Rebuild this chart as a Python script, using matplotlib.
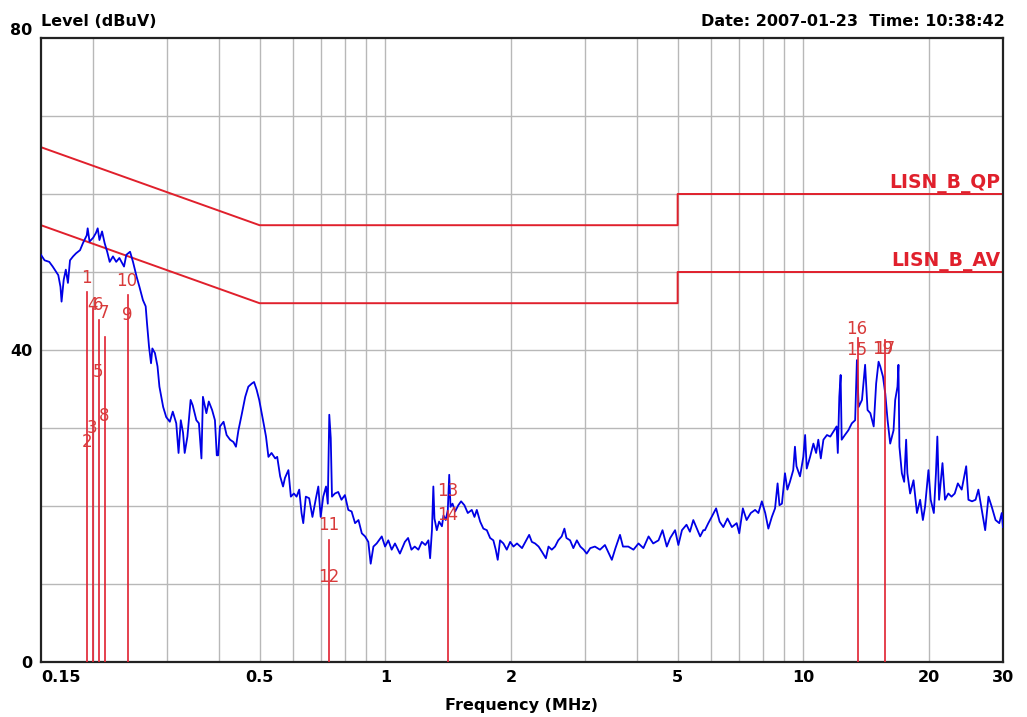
import matplotlib
matplotlib.use('Agg')
import matplotlib.pyplot as plt
from matplotlib.ticker import FixedLocator, NullFormatter, NullLocator

freq_mhz = [
    0.150, 0.153, 0.157, 0.160, 0.165, 0.167, 0.168, 0.170, 0.172, 0.174,
    0.176, 0.179, 0.182, 0.186, 0.189, 0.193, 0.194, 0.196, 0.200, 0.203,
    0.205, 0.207, 0.210, 0.213, 0.216, 0.219, 0.223, 0.227, 0.231, 0.237,
    0.240, 0.245, 0.249, 0.254, 0.258, 0.263, 0.267, 0.269, 0.272, 0.275,
    0.277, 0.281, 0.285, 0.288, 0.294, 0.299, 0.305, 0.310, 0.316, 0.320,
    0.324, 0.328, 0.331, 0.336, 0.342, 0.346, 0.353, 0.358, 0.363, 0.366,
    0.373, 0.378, 0.385, 0.391, 0.395, 0.398, 0.402, 0.410, 0.417, 0.425,
    0.433, 0.439, 0.445, 0.453, 0.462, 0.470, 0.479, 0.485, 0.492, 0.499,
    0.506, 0.512, 0.518, 0.525, 0.534, 0.545, 0.551, 0.560, 0.569, 0.575,
    0.586, 0.594, 0.604, 0.613, 0.622, 0.630, 0.636, 0.645, 0.657, 0.669,
    0.682, 0.691, 0.700, 0.710, 0.721, 0.728, 0.734, 0.740, 0.745, 0.757,
    0.771, 0.785, 0.800, 0.815, 0.830, 0.846, 0.862, 0.878, 0.894, 0.910,
    0.922, 0.936, 0.953, 0.980, 0.998, 1.016, 1.035, 1.054, 1.083, 1.113,
    1.133, 1.154, 1.175, 1.199, 1.222, 1.246, 1.267, 1.279, 1.292, 1.302,
    1.310, 1.327, 1.344, 1.365, 1.377, 1.394, 1.410, 1.421, 1.431, 1.447,
    1.468, 1.494, 1.517, 1.545, 1.574, 1.609, 1.633, 1.654, 1.685, 1.715,
    1.748, 1.780, 1.812, 1.836, 1.856, 1.880, 1.915, 1.951, 1.988, 2.024,
    2.064, 2.122, 2.161, 2.207, 2.240, 2.280, 2.325, 2.370, 2.420, 2.455,
    2.500, 2.545, 2.590, 2.640, 2.680, 2.710, 2.765, 2.815, 2.870, 2.925,
    2.980, 3.030, 3.090, 3.170, 3.260, 3.350, 3.410, 3.480, 3.550, 3.640,
    3.700, 3.810, 3.920, 4.030, 4.140, 4.260, 4.370, 4.500, 4.600, 4.710,
    4.800, 4.930, 5.020, 5.120, 5.250, 5.350, 5.450, 5.560, 5.660, 5.760,
    5.810, 5.920, 6.030, 6.180, 6.300, 6.430, 6.580, 6.740, 6.920, 7.020,
    7.160, 7.310, 7.480, 7.660, 7.800, 7.950, 8.100, 8.240, 8.400, 8.550,
    8.670, 8.760, 8.880, 9.030, 9.150, 9.280, 9.450, 9.540, 9.620, 9.810,
    9.990, 10.09, 10.18, 10.37, 10.56, 10.72, 10.85, 11.00, 11.16, 11.38,
    11.59, 11.81, 12.00, 12.08, 12.18, 12.27, 12.34, 12.56, 12.80, 13.05,
    13.29, 13.42, 13.55, 13.80, 14.04, 14.23, 14.45, 14.72, 14.92, 15.12,
    15.26, 15.49, 15.69, 15.89, 16.12, 16.42, 16.57, 16.78, 16.87, 16.96,
    17.19, 17.41, 17.60, 17.72, 17.99, 18.33, 18.68, 19.01, 19.30, 19.53,
    19.90, 20.15, 20.50, 20.74, 20.90, 21.10, 21.50, 21.80, 22.20, 22.60,
    23.00, 23.40, 23.90, 24.50, 24.80, 25.30, 25.80, 26.20, 26.70, 27.20,
    27.70, 28.20, 28.80, 29.40, 29.80, 30.00,
]
level_dbuv = [
    52.2, 51.5, 51.3, 50.7, 49.6, 48.1, 46.2, 49.0, 50.3, 48.6,
    51.5, 52.0, 52.4, 52.8, 53.7, 54.7, 55.6, 53.9, 54.4, 55.0,
    55.6, 54.1, 55.2, 53.7, 52.6, 51.3, 52.0, 51.3, 51.8, 50.7,
    52.2, 52.6, 51.3, 49.4, 48.1, 46.4, 45.6, 43.4, 40.4, 38.3,
    40.2, 39.6, 37.9, 35.3, 32.7, 31.4, 30.8, 32.1, 30.6, 26.8,
    31.0, 29.4, 26.8, 28.9, 33.6, 32.9, 31.0, 30.6, 26.1, 34.0,
    31.9, 33.4, 32.3, 31.0, 26.5, 26.5, 30.2, 30.8, 29.1, 28.5,
    28.2, 27.6, 29.7, 31.7, 34.0, 35.3, 35.7, 35.9, 34.9, 33.6,
    31.9, 30.4, 28.9, 26.3, 26.8, 26.1, 26.3, 23.8, 22.5, 23.6,
    24.6, 21.2, 21.6, 21.2, 22.1, 19.1, 17.8, 21.2, 21.0, 18.6,
    21.0, 22.5, 18.6, 21.2, 22.5, 20.3, 31.7, 28.7, 21.2, 21.6,
    21.8, 20.8, 21.4, 19.5, 19.3, 17.8, 18.2, 16.5, 16.1, 15.4,
    12.6, 14.8, 15.2, 16.1, 14.8, 15.6, 14.4, 15.2, 13.9, 15.4,
    15.9, 14.4, 14.8, 14.4, 15.4, 15.0, 15.6, 13.3, 16.9, 22.5,
    18.4, 16.9, 18.0, 17.4, 18.8, 18.2, 19.5, 24.0, 19.9, 20.3,
    19.3, 20.1, 20.6, 20.1, 19.1, 19.5, 18.6, 19.5, 18.0, 17.1,
    16.9, 15.9, 15.6, 14.4, 13.1, 15.6, 15.2, 14.4, 15.4, 14.8,
    15.2, 14.6, 15.4, 16.3, 15.4, 15.2, 14.8, 14.1, 13.3, 14.8,
    14.4, 14.8, 15.6, 16.1, 17.1, 15.9, 15.6, 14.6, 15.6, 14.8,
    14.4, 13.9, 14.6, 14.8, 14.4, 15.0, 14.1, 13.1, 14.6, 16.3,
    14.8, 14.8, 14.4, 15.2, 14.6, 16.1, 15.2, 15.6, 16.9, 14.8,
    15.9, 16.9, 15.0, 16.9, 17.6, 16.7, 18.2, 17.1, 16.1, 16.9,
    16.9, 17.8, 18.6, 19.7, 18.0, 17.3, 18.4, 17.3, 17.8, 16.5,
    19.7, 18.2, 19.1, 19.5, 19.1, 20.6, 19.1, 17.1, 18.6, 19.7,
    22.9, 20.1, 20.3, 24.2, 22.1, 23.1, 24.6, 27.6, 25.1, 23.8,
    26.3, 29.1, 24.8, 26.3, 28.0, 26.8, 28.5, 26.1, 28.5, 29.1,
    28.9, 29.6, 30.2, 26.8, 34.0, 36.8, 28.5, 29.1, 29.7, 30.6,
    31.0, 38.7, 32.7, 33.6, 38.1, 32.3, 31.9, 30.2, 35.7, 38.5,
    37.9, 36.6, 34.4, 31.0, 28.0, 29.7, 33.6, 35.3, 38.1, 27.6,
    24.2, 23.1, 28.5, 24.2, 21.6, 23.3, 19.1, 20.8, 18.2, 19.9,
    24.6, 20.8, 19.1, 24.2, 28.9, 20.8, 25.5, 20.8, 21.6, 21.2,
    21.6, 22.9, 22.1, 25.1, 20.8, 20.6, 20.8, 22.1, 19.5, 16.9,
    21.2, 19.9, 18.2, 17.8, 19.1, 17.3,
]

# limit lines (EN 55022 class B, LISN)
limit_freq = [0.15, 0.5, 0.5, 5.0, 5.0, 30.0]
qp_limit = [66, 56, 56, 56, 60, 60]
av_limit = [56, 46, 46, 46, 50, 50]

# marker lines: frequency and reading height
marker_freq = [0.193, 0.200, 0.206, 0.213, 0.242, 0.734, 1.41, 13.5, 15.7]
marker_top = [47.4, 45.4, 43.8, 41.7, 47.0, 15.6, 19.3, 41.5, 41.3]

# marker numbers and where they sit
label_text = ['1', '2', '3', '4', '5', '6', '7', '8', '9', '10',
              '11', '12', '13', '14', '15', '16', '17', '19']
label_freq = [0.193, 0.193, 0.199, 0.199, 0.205, 0.205, 0.212, 0.212, 0.241, 0.241,
              0.733, 0.733, 1.41, 1.41, 13.4, 13.4, 15.6, 15.5]
label_level = [49.2, 28.2, 30.0, 45.8, 37.2, 45.8, 44.7, 31.5, 44.5, 48.8,
               17.6, 10.9, 21.9, 18.8, 40.0, 42.7, 40.1, 40.1]

xtick_vals = [0.15, 0.5, 1, 2, 5, 10, 20, 30]
xtick_labels = ['0.15', '0.5', '1', '2', '5', '10', '20', '30']
xgrid_vals = [0.2, 0.3, 0.4, 0.5, 0.6, 0.7, 0.8, 0.9, 1, 2, 3, 4, 5, 6, 7, 8, 9, 10, 20]
ytick_vals = [0, 40, 80]

plt.rcParams['font.family'] = ['DejaVu Sans']

fig = plt.figure(figsize=(10.27, 7.17), dpi=100)
ax = fig.add_axes([0.0399, 0.0767, 0.9367, 0.8703])

ax.set_xscale('log')
ax.set_xlim(0.15, 30)
ax.set_ylim(0, 80)

# grid
for gx in xgrid_vals:
    ax.axvline(gx, color='#b8b8b8', linewidth=1.0, zorder=0)
for gy in range(10, 80, 10):
    ax.axhline(gy, color='#b8b8b8', linewidth=1.0, zorder=0)

# limits
ax.plot(limit_freq, qp_limit, color='#e0202c', linewidth=1.4, zorder=2)
ax.plot(limit_freq, av_limit, color='#e0202c', linewidth=1.4, zorder=2)
ax.text(29.6, 61.3, 'LISN_B_QP', color='#e0202c', fontsize=13.5, fontweight='bold',
        ha='right', va='center')
ax.text(29.6, 51.3, 'LISN_B_AV', color='#e0202c', fontsize=13.5, fontweight='bold',
        ha='right', va='center')

# trace
ax.plot(freq_mhz, level_dbuv, color='#0000e6', linewidth=1.3, zorder=3)

# markers
for mf, mt in zip(marker_freq, marker_top):
    ax.plot([mf, mf], [0, mt], color='#e02030', linewidth=1.2, zorder=4)
for t, lf, ll in zip(label_text, label_freq, label_level):
    ax.text(lf, ll, t, color='#d83a3a', fontsize=12, ha='center', va='center', zorder=5)

# axes styling
for sp in ax.spines.values():
    sp.set_linewidth(1.6)
    sp.set_color('#222222')
ax.xaxis.set_major_locator(FixedLocator(xtick_vals))
ax.xaxis.set_minor_locator(NullLocator())
ax.xaxis.set_minor_formatter(NullFormatter())
ax.set_xticklabels(xtick_labels)
ax.set_yticks(ytick_vals)
ax.set_yticklabels([str(v) for v in ytick_vals])
ax.tick_params(length=0, labelsize=11.5, pad=6)
for lbl in ax.get_xticklabels() + ax.get_yticklabels():
    lbl.set_fontweight('bold')
ax.get_xticklabels()[0].set_horizontalalignment('left')
ax.get_yticklabels()[-1].set_verticalalignment('bottom')

fig.text(0.0399, 0.9707, 'Level (dBuV)', fontsize=11.5, fontweight='bold',
         ha='left', va='center')
fig.text(0.978, 0.9707, 'Date: 2007-01-23  Time: 10:38:42', fontsize=11.5,
         fontweight='bold', ha='right', va='center')
fig.text(0.508, 0.0167, 'Frequency (MHz)', fontsize=11.5, fontweight='bold',
         ha='center', va='center')

fig.savefig('out.png', dpi=100)
